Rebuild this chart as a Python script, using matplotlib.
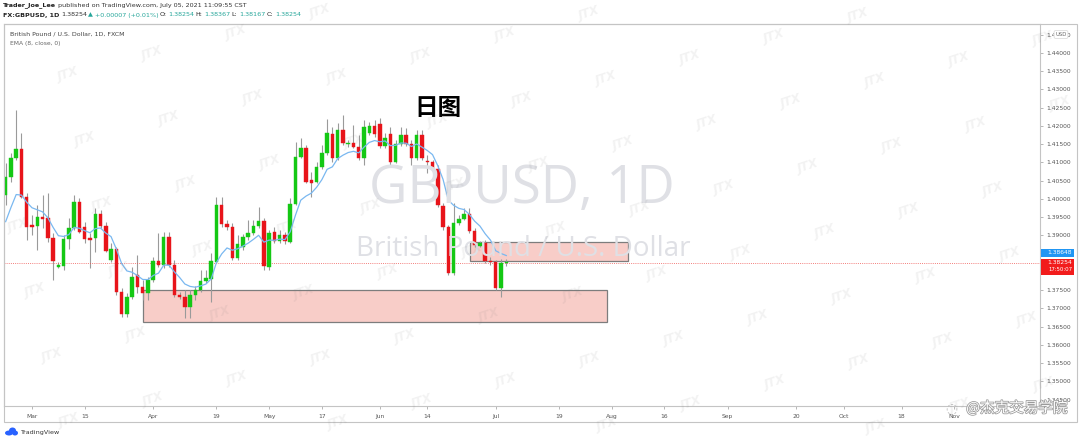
import matplotlib
matplotlib.use("Agg")
import matplotlib.pyplot as plt
import matplotlib.patheffects as pe
from matplotlib.patches import Rectangle, FancyBboxPatch, Ellipse
import numpy as np

W, H = 1080, 444

# ---------------- data (GBPUSD daily, FXCM) ----------------
bar_index = list(range(-5, 91))   # 0 = 1 Mar 2021 (trading days)
opens = [1.4011, 1.4060, 1.4112, 1.4137, 1.4005, 1.3929, 1.3926, 1.3951, 1.3948, 1.3893,
         1.3814, 1.3816, 1.3890, 1.3921, 1.3992, 1.3923, 1.3893, 1.3893, 1.3959, 1.3926,
         1.3833, 1.3863, 1.3745, 1.3685, 1.3731, 1.3792, 1.3759, 1.3742, 1.3778, 1.3830,
         1.3819, 1.3896, 1.3819, 1.3737, 1.3731, 1.3704, 1.3737, 1.3751, 1.3775, 1.3781,
         1.3827, 1.3984, 1.3932, 1.3923, 1.3838, 1.3868, 1.3896, 1.3907, 1.3926, 1.3940,
         1.3814, 1.3910, 1.3885, 1.3901, 1.3882, 1.3986, 1.4115, 1.4140, 1.4052, 1.4047,
         1.4088, 1.4126, 1.4178, 1.4112, 1.4189, 1.4151, 1.4153, 1.4142, 1.4112, 1.4181,
         1.4200, 1.4206, 1.4145, 1.4178, 1.4101, 1.4151, 1.4175, 1.4151, 1.4112, 1.4175,
         1.4104, 1.4101, 1.4082, 1.3981, 1.3923, 1.3797, 1.3934, 1.3945, 1.3959, 1.3912,
         1.3871, 1.3879, 1.3830, 1.3827, 1.3756, 1.38254]
highs = [1.4099, 1.4126, 1.4244, 1.4181, 1.4016, 1.3956, 1.3984, 1.4011, 1.4016, 1.3907,
         1.3827, 1.3901, 1.3948, 1.4011, 1.4003, 1.3937, 1.3907, 1.3975, 1.3970, 1.3937,
         1.3879, 1.3868, 1.3756, 1.3742, 1.3814, 1.3847, 1.3778, 1.3786, 1.3841, 1.3907,
         1.3910, 1.3910, 1.3833, 1.3745, 1.3751, 1.3751, 1.3762, 1.3805, 1.3805, 1.3852,
         1.4005, 1.4005, 1.3942, 1.3934, 1.3901, 1.3904, 1.3942, 1.3942, 1.3978, 1.3948,
         1.3915, 1.3923, 1.3915, 1.3910, 1.4003, 1.4156, 1.4167, 1.4148, 1.4074, 1.4101,
         1.4148, 1.4219, 1.4197, 1.4208, 1.4230, 1.4162, 1.4203, 1.4175, 1.4216, 1.4211,
         1.4216, 1.4222, 1.4181, 1.4197, 1.4162, 1.4197, 1.4195, 1.4162, 1.4189, 1.4189,
         1.4121, 1.4107, 1.4093, 1.3989, 1.3929, 1.3989, 1.3956, 1.3975, 1.3975, 1.3921,
         1.3885, 1.3888, 1.3841, 1.3833, 1.3836, 1.38367]
lows = [1.3984, 1.4047, 1.4107, 1.4003, 1.3888, 1.3901, 1.3860, 1.3921, 1.3882, 1.3778,
        1.3811, 1.3805, 1.3863, 1.3915, 1.3907, 1.3879, 1.3811, 1.3855, 1.3921, 1.3855,
        1.3827, 1.3737, 1.3677, 1.3677, 1.3726, 1.3742, 1.3723, 1.3723, 1.3773, 1.3814,
        1.3811, 1.3814, 1.3731, 1.3726, 1.3674, 1.3674, 1.3723, 1.3745, 1.3770, 1.3718,
        1.3825, 1.3923, 1.3915, 1.3833, 1.3833, 1.3860, 1.3888, 1.3901, 1.3921, 1.3805,
        1.3805, 1.3879, 1.3879, 1.3877, 1.3879, 1.3984, 1.4112, 1.4044, 1.4005, 1.4044,
        1.4082, 1.4121, 1.4101, 1.4107, 1.4148, 1.4142, 1.4140, 1.4107, 1.4093, 1.4175,
        1.4170, 1.4140, 1.4140, 1.4093, 1.4099, 1.4145, 1.4145, 1.4093, 1.4107, 1.4107,
        1.4071, 1.4079, 1.3978, 1.3915, 1.3792, 1.3792, 1.3929, 1.3942, 1.3907, 1.3868,
        1.3868, 1.3825, 1.3819, 1.3751, 1.3731, 1.38167]
closes = [1.4060, 1.4112, 1.4137, 1.4005, 1.3923, 1.3923, 1.3951, 1.3945, 1.3893, 1.3830,
          1.3819, 1.3890, 1.3921, 1.3992, 1.3910, 1.3890, 1.3888, 1.3959, 1.3926, 1.3858,
          1.3863, 1.3745, 1.3685, 1.3731, 1.3786, 1.3759, 1.3742, 1.3778, 1.3830, 1.3819,
          1.3896, 1.3819, 1.3737, 1.3731, 1.3704, 1.3737, 1.3751, 1.3775, 1.3784, 1.3830,
          1.3984, 1.3932, 1.3923, 1.3838, 1.3877, 1.3896, 1.3907, 1.3926, 1.3940, 1.3816,
          1.3907, 1.3885, 1.3901, 1.3885, 1.3986, 1.4115, 1.4140, 1.4047, 1.4044, 1.4088,
          1.4126, 1.4181, 1.4112, 1.4189, 1.4153, 1.4153, 1.4142, 1.4112, 1.4197, 1.4200,
          1.4178, 1.4145, 1.4167, 1.4101, 1.4151, 1.4175, 1.4151, 1.4112, 1.4175, 1.4112,
          1.4101, 1.4082, 1.3984, 1.3923, 1.3797, 1.3934, 1.3945, 1.3959, 1.3912, 1.3874,
          1.3879, 1.3830, 1.3827, 1.3756, 1.38247, 1.38254]
ema_seed = 1.3903
ema_period = 8

time_tick_index = [0, 10, 23, 35, 45, 55, 66, 75, 88, 100, 110, 120, 132, 145, 154, 165, 175]
time_tick_labels = ["Mar", "15", "Apr", "19", "May", "17", "Jun", "14", "Jul", "19",
                    "Aug", "16", "Sep", "20", "Oct", "18", "Nov"]
price_ticks = [1.345, 1.350, 1.355, 1.360, 1.365, 1.370, 1.375, 1.380, 1.385, 1.390,
               1.395, 1.400, 1.405, 1.410, 1.415, 1.420, 1.425, 1.430, 1.435, 1.440, 1.445]
hidden_price_ticks = [1.380, 1.385]   # covered by the price badges

zone_big = [21.1, 109.1, 1.3663, 1.3751]     # start bar, end bar, low, high
zone_small = [83.1, 113.1, 1.3830, 1.3882]
last_price = 1.38254
ema_label = "1.38648"
countdown = "17:50:07"

# ---------------- figure ----------------
fig = plt.figure(figsize=(W / 100, H / 100), dpi=100)
fig.patch.set_facecolor("white")

def fx(x):
    return x / W

def fy(y):
    return 1 - y / H

ax_left, ax_right, ax_top, ax_bot = 4, 1040, 24, 406
ax = fig.add_axes([fx(ax_left), fy(ax_bot), (ax_right - ax_left) / W, (ax_bot - ax_top) / H])
ax.set_facecolor("none")

# x: bar i at pixel 32 + 5.27 i ; y: price p at pixel 199 - (p-1.4)*3650
ax.set_xlim((ax_left - 32) / 5.27, (ax_right - 32) / 5.27)
ax.set_ylim(1.4 - (ax_bot - 199) / 3650, 1.4 + (199 - ax_top) / 3650)

# background watermark of symbol
fig.text(fx(522), fy(189), "GBPUSD, 1D", fontsize=38, family="Open Sans",
         color="#dfe0e5", ha="center", va="center", zorder=0)
fig.text(fx(523), fy(249), "British Pound / U.S. Dollar", fontsize=20, family="Open Sans",
         color="#dfe0e5", ha="center", va="center", zorder=0)

# zones
for z in (zone_big, zone_small):
    ax.add_patch(Rectangle((z[0], z[2]), z[1] - z[0], z[3] - z[2], facecolor="#f8cdc8",
                           edgecolor="#7d7d7d", lw=0.9, zorder=1))

# candles
idx = np.array(bar_index, dtype=float)
o = np.array(opens); h = np.array(highs); l = np.array(lows); c = np.array(closes)
up = c >= o
col = np.where(up, "#14c814", "#e8141a")
ax.vlines(idx, l, h, color="#9a9a9a", lw=0.8, zorder=2)
body_lo = np.minimum(o, c)
body_h = np.maximum(np.abs(c - o), 0.00009)
ax.bar(idx, body_h, bottom=body_lo, width=0.66, color=col, edgecolor=col, lw=0.3, zorder=3)

# EMA(8)
alpha = 2 / (ema_period + 1)
ema = []
prev = ema_seed
for v in closes:
    prev = prev + alpha * (v - prev)
    ema.append(prev)
ax.plot(idx, ema, color="#7ab8f0", lw=0.9, zorder=4)

# last price line
ax.axhline(last_price, color="#ef5350", lw=0.55, ls=(0, (1.2, 1.6)), zorder=2)

# axes styling
for s in ax.spines.values():
    s.set_color("#c4c4c4")
    s.set_linewidth(0.8)
ax.yaxis.tick_right()
ax.set_yticks(price_ticks)
ax.set_yticklabels(["" if any(abs(p - q) < 1e-9 for q in hidden_price_ticks) else f"{p:.5f}"
                    for p in price_ticks])
ax.set_xticks(time_tick_index)
ax.set_xticklabels(time_tick_labels)
ax.tick_params(axis="y", length=2.5, width=0.5, color="#9a9a9a", labelsize=4.3,
               labelcolor="#555555", pad=2)
ax.tick_params(axis="x", length=2.5, width=0.5, color="#9a9a9a", labelsize=4.3,
               labelcolor="#555555", pad=3)

# outer frame
fig.add_artist(Rectangle((fx(4), fy(422)), (1077 - 4) / W, (422 - 24) / H,
                         transform=fig.transFigure, fill=False, edgecolor="#c4c4c4", lw=0.8))

fig.canvas.draw()
r = fig.canvas.get_renderer()

def pix_y(price):
    return H - ax.transData.transform((0, price))[1]

# price labels on axis
yb = 252.5
fig.add_artist(Rectangle((fx(1041), fy(yb + 4)), 33 / W, 8 / H, transform=fig.transFigure,
                         facecolor="#2196f3", edgecolor="none", zorder=10))
fig.text(fx(1047), fy(yb), ema_label, fontsize=4.3, color="white", va="center", ha="left", zorder=11)
yr = pix_y(last_price)
fig.add_artist(Rectangle((fx(1041), fy(yr + 12)), 33 / W, 16 / H, transform=fig.transFigure,
                         facecolor="#f21c1c", edgecolor="none", zorder=10))
fig.text(fx(1047), fy(yr), f"{last_price:.5f}", fontsize=4.3, color="white", va="center",
         ha="left", zorder=11)
fig.text(fx(1048), fy(yr + 7), countdown, fontsize=3.9, color="white", va="center",
         ha="left", zorder=11)
# currency badge (sits over the top price label, as in the screenshot)
fig.text(fx(1061), fy(34.5), "USD", fontsize=3.8, color="#666666", va="center", ha="center",
         zorder=11, bbox=dict(boxstyle="round,pad=0.25", fc="white", ec="#cccccc", lw=0.4))

# header texts
def runs(x, y, parts, size):
    cx = x
    for txt, color, weight in parts:
        t = fig.text(fx(cx), fy(y), txt, color=color, fontsize=size, fontweight=weight,
                     va="center", ha="left")
        bb = t.get_window_extent(renderer=r)
        cx += bb.width + 1.5

dark = "#222222"
grn = "#26a69a"
runs(3, 5, [("Trader_Joe_Lee", dark, "bold"),
            ("published on TradingView.com, July 05, 2021 11:09:55 CST", "#333333", "normal")], 4.6)
runs(3, 15, [("FX:GBPUSD, 1D", dark, "bold"), ("1.38254", "#333333", "normal"),
             ("▲", grn, "normal"), ("+0.00007 (+0.01%)", grn, "normal"),
             ("O:", dark, "normal"), ("1.38254", grn, "normal"),
             ("H:", dark, "normal"), ("1.38367", grn, "normal"),
             ("L:", dark, "normal"), ("1.38167", grn, "normal"),
             ("C:", dark, "normal"), ("1.38254", grn, "normal")], 4.6)
fig.text(fx(10), fy(34), "British Pound / U.S. Dollar, 1D, FXCM", fontsize=4.5,
         color="#444444", va="center", ha="left")
fig.text(fx(10), fy(44), "EMA (8, close, 0)", fontsize=4.3, color="#666666", va="center", ha="left")

# title
fig.text(fx(438), fy(108), "日图", fontsize=17, fontweight="bold", color="black",
         family=["Noto Sans CJK SC", "DejaVu Sans"], ha="center", va="center", zorder=20)

# TradingView logo (cloud icon drawn with ellipses)
for (ex, ey, ew, eh) in [(9, 433, 8, 5), (12.5, 430.5, 7, 6), (15, 433, 6, 5)]:
    fig.add_artist(Ellipse((fx(ex), fy(ey)), ew / W, eh / H, transform=fig.transFigure,
                           facecolor="#2962ff", edgecolor="none"))
fig.text(fx(20), fy(432), "TradingView", fontsize=4.6, color="#333333", va="center", ha="left")

# JTX watermark lattice
for a in range(-12, 16):
    for b in range(-8, 9):
        x = 102 + 84 * a + 17 * b
        y = 205 - 21 * a + 65 * b
        if 16 < x < 1064 and 10 < y < 434:
            fig.text(fx(x), fy(y), "JTX", fontsize=8.5, fontweight="bold", style="italic",
                     color=(0.45, 0.45, 0.45, 0.09), rotation=18, ha="center", va="center",
                     zorder=30)

# bottom-right watermark
fig.text(fx(951), fy(408), "◌", fontsize=10, color="#bbbbbb", va="center", ha="center", zorder=31)
fig.text(fx(1017), fy(408), "@杰克交易学院", fontsize=10.5, color="white",
         family=["Noto Sans CJK SC", "DejaVu Sans"], ha="center", va="center", zorder=31,
         path_effects=[pe.withStroke(linewidth=1.1, foreground="#9a9a9a")])

fig.savefig("out.png", dpi=100)
